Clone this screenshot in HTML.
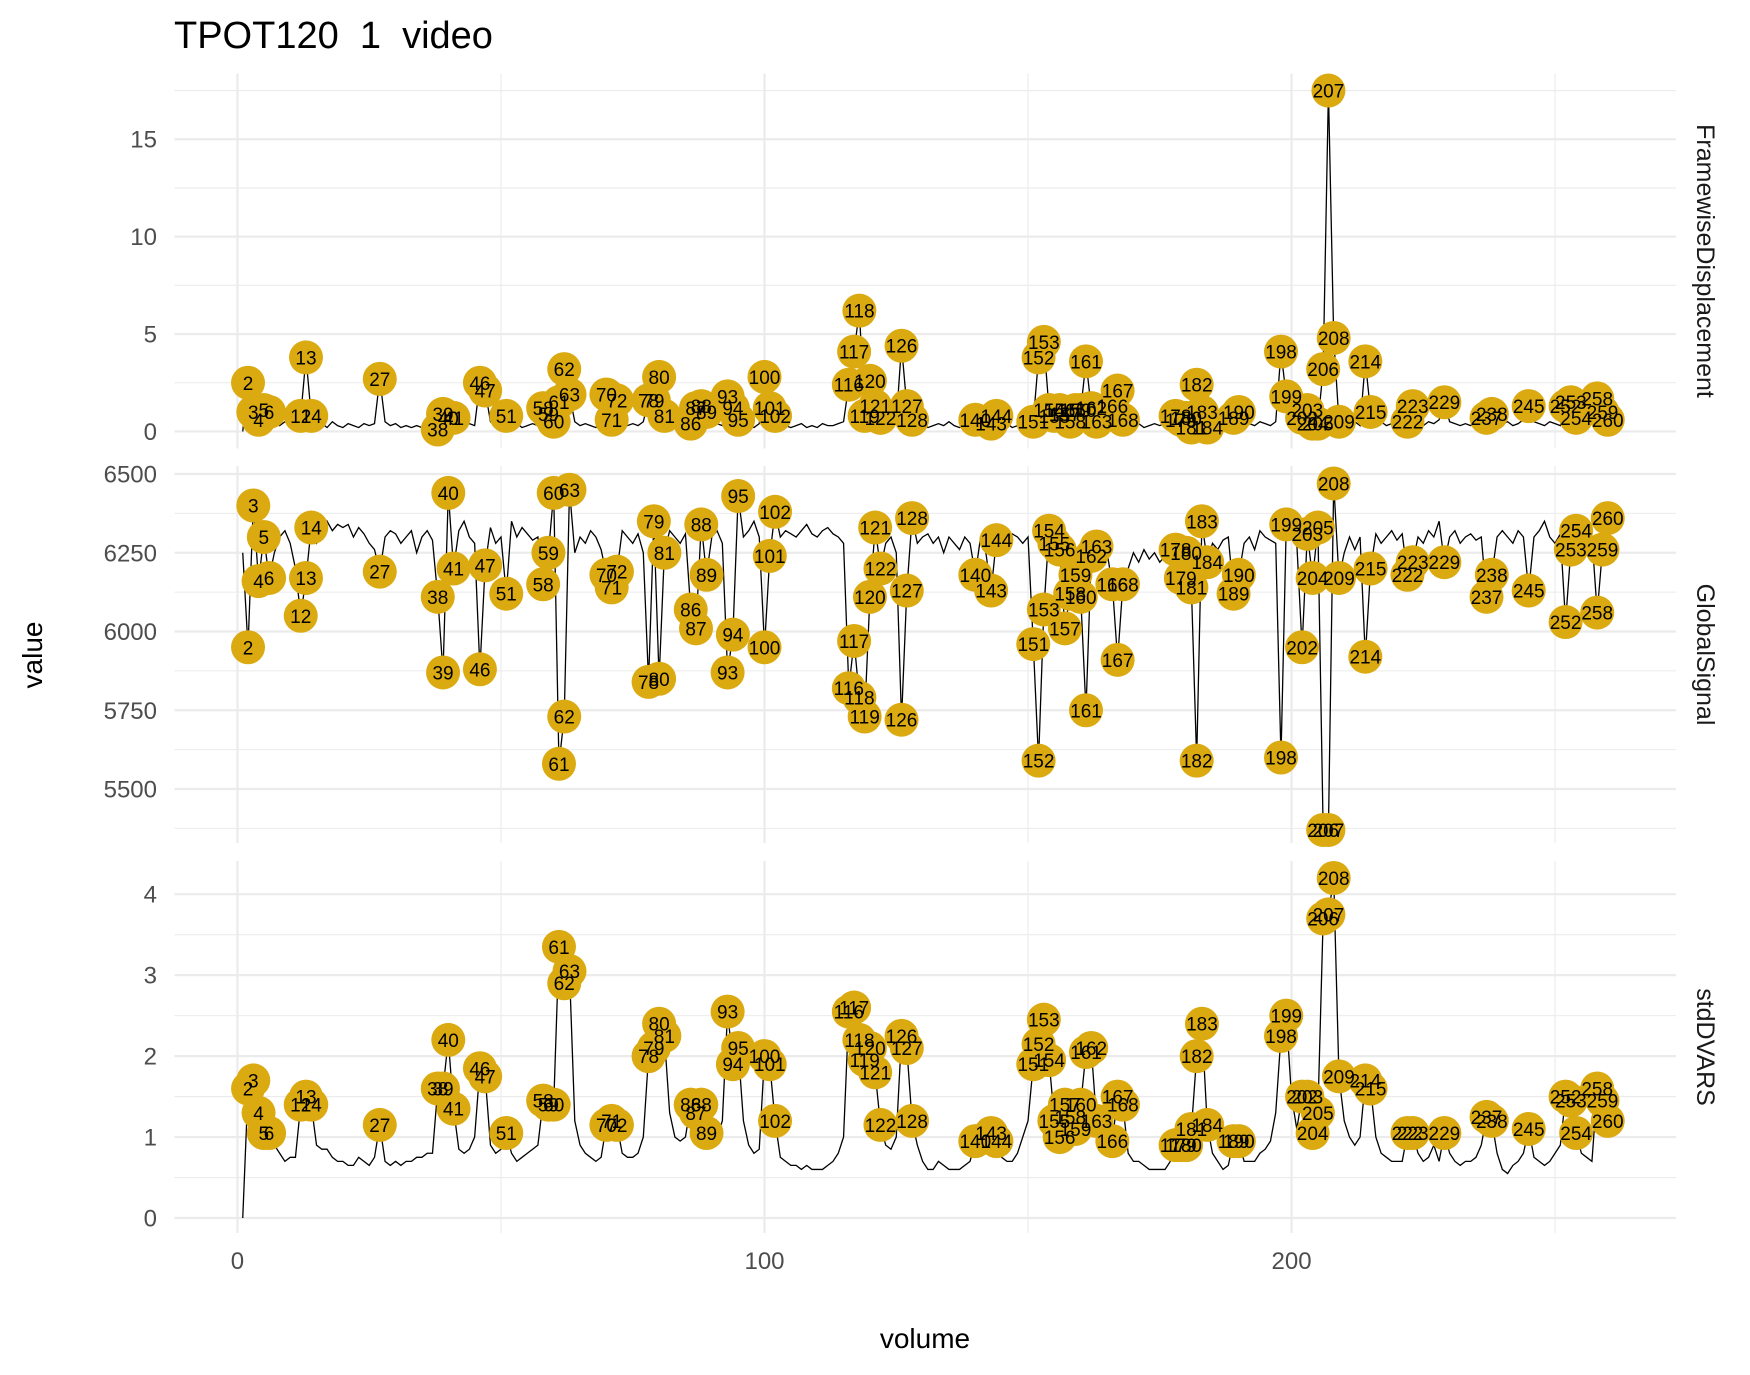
<!DOCTYPE html>
<html><head><meta charset="utf-8">
<style>
html,body{margin:0;padding:0;background:#fff;}
svg{display:block;font-family:"Liberation Sans",Arial,sans-serif;}
</style></head>
<body>
<svg id="chart" width="1750" height="1375" viewBox="0 0 1750 1375" xmlns="http://www.w3.org/2000/svg">
<rect width="1750" height="1375" fill="#fff"/>
<text x="174" y="48" font-size="38" fill="#000" style="white-space:pre" xml:space="preserve">TPOT120  1  video</text>
<text transform="translate(42,655) rotate(-90)" text-anchor="middle" font-size="28" fill="#000">value</text>
<text x="925" y="1348" text-anchor="middle" font-size="28" fill="#000">volume</text>
<g id="layer"></g>
</svg>
<script>
const fdValues = [0,2.5,1.0,0.6,1.1,1.0,0.4,0.3,0.5,0.3,0.4,0.8,3.8,0.8,0.3,0.4,0.2,0.5,0.3,0.2,
0.4,0.3,0.2,0.4,0.3,0.4,2.7,0.5,0.3,0.4,0.2,0.3,0.2,0.3,0.2,0.4,0.3,0.1,0.9,0.7,
0.7,0.3,0.2,0.4,0.3,2.5,2.1,0.5,0.3,0.4,0.8,0.3,0.4,0.2,0.3,0.4,0.3,1.2,0.9,0.5,
1.5,3.2,1.9,0.5,0.3,0.4,0.3,0.2,0.4,1.9,0.6,1.6,0.4,0.3,0.4,0.3,0.5,1.6,1.6,2.8,
0.8,0.4,0.3,0.2,0.4,0.4,1.2,1.3,1.0,0.3,0.4,0.3,1.8,1.2,0.6,0.4,0.3,0.2,0.4,2.8,
1.2,0.8,0.4,0.3,0.2,0.3,0.4,0.2,0.3,0.2,0.4,0.3,0.3,0.4,0.5,2.4,4.1,6.2,0.8,2.6,
1.3,0.7,0.4,0.3,0.5,4.4,1.3,0.6,0.3,0.4,0.2,0.3,0.4,0.3,0.5,0.3,0.2,0.3,0.4,0.6,
0.3,0.4,0.4,0.8,0.3,0.4,0.2,0.3,0.4,0.3,0.5,3.8,4.6,1.1,0.8,1.1,0.9,0.5,1.1,1.1,
3.6,1.2,0.5,0.4,0.3,1.3,2.1,0.6,0.4,0.3,0.4,0.2,0.3,0.4,0.3,0.4,0.3,0.8,0.6,0.7,
0.2,2.4,1.0,0.2,0.4,0.3,0.5,0.4,0.7,1.0,0.3,0.4,0.3,0.5,0.4,0.3,0.5,4.1,1.8,0.5,
0.4,0.7,1.1,0.4,0.4,3.2,17.5,4.8,0.5,0.6,0.4,0.5,0.3,3.6,1.0,0.4,0.5,0.3,0.4,0.5,
0.4,0.5,1.3,0.4,0.3,0.5,0.4,0.6,1.5,0.5,0.4,0.3,0.4,0.3,0.5,0.4,0.7,0.9,0.3,0.4,
0.5,0.3,0.4,0.6,1.3,0.5,0.4,0.3,0.5,0.4,0.3,1.3,1.5,0.7,0.4,0.5,0.4,1.7,1.0,0.6];
const gsValues = [6250,5950,6400,6160,6300,6170,6250,6300,6320,6280,6200,6050,6170,6330,6280,6300,6350,6320,6340,6330,
6340,6300,6330,6310,6280,6260,6190,6300,6320,6310,6280,6300,6320,6250,6300,6320,6290,6110,5870,6440,
6200,6320,6350,6300,6280,5880,6210,6330,6280,6300,6120,6350,6300,6330,6310,6290,6300,6150,6250,6440,
5580,5730,6450,6250,6300,6280,6320,6300,6260,6180,6140,6190,6320,6300,6280,6310,6250,5840,6350,5850,
6250,6320,6300,6280,6310,6070,6010,6340,6180,6300,6320,6280,5870,5990,6430,6300,6320,6350,6300,5950,
6240,6380,6300,6320,6310,6300,6320,6340,6310,6300,6320,6330,6310,6300,6280,5820,5970,5790,5730,6110,
6330,6200,6280,6300,6250,5720,6130,6360,6280,6300,6310,6280,6300,6250,6300,6280,6260,6300,6280,6180,
6300,6250,6130,6290,6320,6300,6310,6300,6280,6300,5960,5590,6070,6320,6280,6260,6010,6120,6180,6110,
5750,6240,6270,6280,6250,6150,5910,6150,6200,6250,6220,6260,6230,6250,6220,6240,6280,6260,6170,6250,
6140,5590,6350,6220,6280,6260,6290,6300,6120,6180,6280,6300,6260,6320,6300,6290,6280,5600,6340,6300,
6280,5950,6310,6170,6330,5370,5370,6470,6170,6250,6300,6260,6300,5920,6200,6310,6280,6300,6320,6290,
6310,6180,6220,6300,6280,6320,6300,6350,6220,6300,6320,6280,6300,6310,6290,6300,6110,6180,6300,6320,
6300,6280,6320,6300,6130,6300,6320,6350,6300,6280,6310,6030,6260,6320,6300,6280,6300,6060,6260,6360];
const dvValues = [0,1.6,1.7,1.3,1.05,1.05,0.9,0.8,0.7,0.75,0.75,1.4,1.5,1.4,0.9,0.85,0.85,0.75,0.7,0.7,
0.65,0.65,0.75,0.7,0.65,0.75,1.15,0.7,0.65,0.7,0.65,0.7,0.7,0.75,0.75,0.8,0.8,1.6,1.6,2.2,
1.35,0.85,0.8,0.85,1.0,1.85,1.75,0.9,0.8,0.85,1.05,0.8,0.7,0.75,0.8,0.85,0.9,1.45,1.4,1.4,
3.35,2.9,3.05,1.2,0.9,0.8,0.75,0.7,0.75,1.15,1.2,1.15,0.8,0.75,0.75,0.8,1.0,2.0,2.1,2.4,
2.25,1.3,1.0,0.95,1.0,1.4,1.3,1.4,1.05,0.9,1.0,1.2,2.55,1.9,2.1,1.2,0.9,0.8,0.85,2.0,
1.9,1.2,0.75,0.7,0.65,0.65,0.6,0.65,0.6,0.6,0.6,0.65,0.7,0.8,1.0,2.55,2.6,2.2,1.95,2.1,
1.8,1.15,0.9,0.85,1.0,2.25,2.1,1.2,0.9,0.7,0.6,0.6,0.7,0.65,0.6,0.6,0.6,0.65,0.7,0.95,
1.0,1.0,1.05,0.95,0.75,0.7,0.7,0.8,1.0,1.2,1.9,2.15,2.45,1.95,1.2,1.0,1.4,1.25,1.1,1.4,
2.05,2.1,1.2,1.0,0.85,0.95,1.5,1.4,0.8,0.7,0.7,0.65,0.6,0.6,0.6,0.6,0.7,0.9,0.9,0.9,
1.1,2.0,2.4,1.15,0.8,0.7,0.6,0.65,0.95,0.95,0.7,0.7,0.7,0.8,0.85,0.95,1.3,2.25,2.5,1.5,
1.1,1.5,1.5,1.05,1.3,3.7,3.75,4.2,1.75,1.2,1.0,0.9,1.0,1.7,1.6,1.0,0.8,0.75,0.7,0.7,
0.7,1.05,1.05,0.8,0.7,0.75,0.9,0.7,1.05,0.8,0.7,0.65,0.7,0.7,0.75,0.9,1.25,1.2,0.8,0.6,
0.55,0.65,0.7,0.8,1.1,0.75,0.7,0.65,0.7,0.8,0.9,1.5,1.45,1.05,0.8,0.75,0.7,1.6,1.45,1.2];
const flaggedVolumes = [2,3,4,5,6,12,13,14,27,38,39,40,41,46,47,51,58,59,60,61,62,63,70,71,72,78,79,80,81,86,87,88,89,93,94,95,100,101,102,116,117,118,119,120,121,122,126,127,128,140,143,144,151,152,153,154,155,156,157,158,159,160,161,162,163,166,167,168,178,179,180,181,182,183,184,189,190,198,199,202,203,204,205,206,207,208,209,214,215,222,223,229,237,238,245,252,253,254,258,259,260];
const xTicks = [0,100,200];
const fdTicks = [0,5,10,15];
const gsTicks = [5500,5750,6000,6250,6500];
const dvTicks = [0,1,2,3,4];

const NS="http://www.w3.org/2000/svg";
const layer=document.getElementById('layer');
const PL=174.5, PR=1676;
function xs(v){return PL+(v+11.95)*(PR-PL)/284.9;}
function mk(tag,attrs,parent){const e=document.createElementNS(NS,tag);for(const k in attrs)e.setAttribute(k,attrs[k]);(parent||layer).appendChild(e);return e;}

const panels=[
 {name:'framewise-displacement',strip:'FramewiseDisplacement',vals:fdValues,ticks:fdTicks,top:73.5,bot:448.5,vmax:18.375,vmin:-0.875,minorStep:2.5},
 {name:'global-signal',strip:'GlobalSignal',vals:gsValues,ticks:gsTicks,top:466,bot:843,vmax:6525.4,vmin:5328.6,minorStep:125},
 {name:'std-dvars',strip:'stdDVARS',vals:dvValues,ticks:dvTicks,top:861,bot:1233,vmax:4.41,vmin:-0.185,minorStep:0.5}
];

panels.forEach((p,pi)=>{
  const g=mk('g',{});
  
  
  const ys=v=>p.top+(p.vmax-v)*(p.bot-p.top)/(p.vmax-p.vmin);
  const start=Math.ceil(p.vmin/p.minorStep)*p.minorStep;
  for(let v=start;v<=p.vmax;v+=p.minorStep){
    if(p.ticks.some(t=>Math.abs(t-v)<1e-6))continue;
    const l=mk('line',{x1:PL,x2:PR,y1:ys(v),y2:ys(v),stroke:'#EBEBEB','stroke-width':1.1},g);
    
    
  }
  [50,150,250].forEach(v=>{
    const l=mk('line',{x1:xs(v),x2:xs(v),y1:p.top,y2:p.bot,stroke:'#EBEBEB','stroke-width':1.1},g);
    
    
  });
  p.ticks.forEach(t=>{
    const l=mk('line',{x1:PL,x2:PR,y1:ys(t),y2:ys(t),stroke:'#EBEBEB','stroke-width':2.2},g);
    
    
    const tx=mk('text',{x:157,y:ys(t)+8.5,'text-anchor':'end','font-size':24,fill:'#4D4D4D'},g);
    tx.textContent=t;
    
    
  });
  xTicks.forEach(t=>{
    const l=mk('line',{x1:xs(t),x2:xs(t),y1:p.top,y2:p.bot,stroke:'#EBEBEB','stroke-width':2.2},g);
    
    
  });
  const pts=p.vals.map((v,i)=>xs(i+1).toFixed(2)+','+ys(v).toFixed(2)).join(' ');
  const pl=mk('polyline',{points:pts,fill:'none',stroke:'#000','stroke-width':1.3},g);
  
  
  flaggedVolumes.forEach(idx=>{
    const c=mk('circle',{cx:xs(idx),cy:ys(p.vals[idx-1]),r:17,fill:'#DBAA10'},g);
    
    
  });
  flaggedVolumes.forEach(idx=>{
    const t=mk('text',{x:xs(idx),y:ys(p.vals[idx-1])+7,'text-anchor':'middle','font-size':19,fill:'#000'},g);
    t.textContent=idx;
    
    
  });
  const cy=(p.top+p.bot)/2;
  const st=mk('text',{transform:`translate(1697,${cy}) rotate(90)`,'text-anchor':'middle','font-size':25,fill:'#1A1A1A'},g);
  st.textContent=p.strip;
  
  
});
xTicks.forEach(t=>{
  const tx=mk('text',{x:xs(t),y:1269,'text-anchor':'middle','font-size':24,fill:'#4D4D4D'});
  tx.textContent=t;
  
  
});
</script>
</body></html>
